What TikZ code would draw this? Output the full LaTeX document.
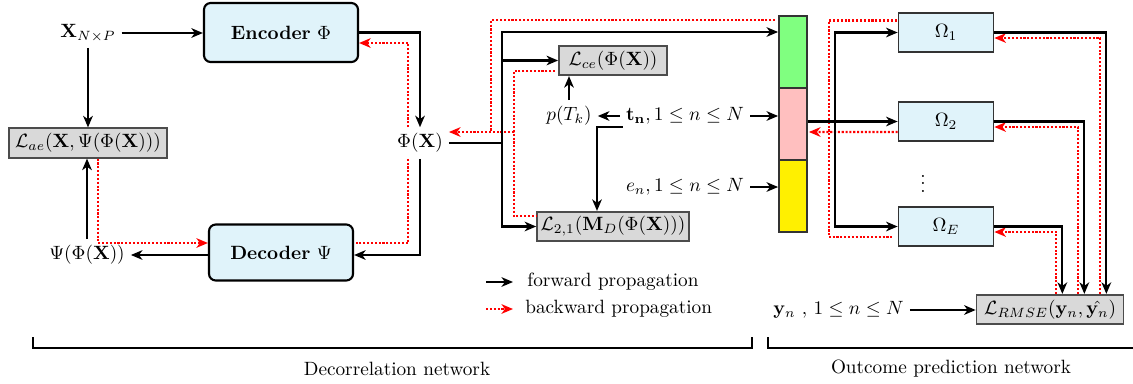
\documentclass[tikz,border=0pt]{standalone}
\usepackage{amsmath,amssymb}
\usetikzlibrary{arrows.meta,calc}
\definecolor{boxblue}{HTML}{E0F3FA}
\definecolor{lossgray}{HTML}{D9D9D9}
\definecolor{bargreen}{HTML}{80FF80}
\definecolor{barpink}{HTML}{FFBFBF}
\definecolor{baryellow}{HTML}{FFF000}
\begin{document}
\begin{tikzpicture}[x=0.52pt,y=-0.52pt,
 tipst/.tip={Stealth[length=6pt,width=5pt,inset=1.8pt]},
 fw/.style={line width=1.1pt,-tipst},
 fl/.style={line width=1.1pt},
 bw/.style={red,line width=1.1pt,dash pattern=on 1.1pt off 0.9pt,-tipst},
 bwn/.style={red,line width=1.1pt,dash pattern=on 1.1pt off 0.9pt},
 netbox/.style={draw=black,line width=1.1pt,rounded corners=3.5pt,fill=boxblue},
 omegabox/.style={draw=black!80,line width=0.9pt,fill=boxblue,minimum width=49.4pt,minimum height=20.3pt},
 lossbox/.style={draw=black!70,line width=0.9pt,fill=lossgray,minimum height=15.3pt,inner sep=1pt},
 lbl/.style={inner sep=3pt},
 seg/.style={draw=black!80,line width=0.9pt,minimum width=14.6pt,minimum height=37.4pt,inner sep=0pt},
 brk/.style={line width=1.1pt}]
\useasboundingbox (0,0) rectangle (1133,383);

% nodes
\node[netbox,minimum width=80.1pt,minimum height=30.7pt] (enc) at (281,32.5) {\textbf{Encoder} $\Phi$};
\node[netbox,minimum width=74.9pt,minimum height=29.1pt] (dec) at (281,252.5) {\textbf{Decoder} $\Psi$};
\node[lbl] (X) at (88,33) {$\mathbf{X}_{N\times P}$};
\node[lossbox,minimum width=82.2pt] (Lae) at (88,143) {$\mathcal{L}_{ae}(\mathbf{X},\Psi(\Phi(\mathbf{X})))$};
\node[lbl] (psi) at (87,255) {$\Psi(\Phi(\mathbf{X}))$};
\node[lbl] (phi) at (420,143) {$\Phi(\mathbf{X})$};
\node[lossbox,minimum width=56.2pt] (Lce) at (613,60.5) {$\mathcal{L}_{ce}(\Phi(\mathbf{X}))$};
\node[lossbox,minimum width=79pt] (L21) at (613,226.5) {$\mathcal{L}_{2,1}(\mathbf{M}_D(\Phi(\mathbf{X})))$};
\node[lbl] (pT) at (569,116) {$p(T_k)$};
\node[lbl] (tn) at (685,116) {$\mathbf{t_n}, 1\leq n\leq N$};
\node[lbl] (en) at (685,187) {$e_n, 1\leq n\leq N$};
\node[seg,fill=bargreen] (g) at (793,52) {};
\node[seg,fill=barpink] (pk) at (793,124) {};
\node[seg,fill=baryellow] (yl) at (793,196) {};
\node[omegabox] (O1) at (946,32.5) {$\Omega_1$};
\node[omegabox] (O2) at (946,121.5) {$\Omega_2$};
\node[omegabox] (OE) at (946,226.5) {$\Omega_E$};
\node (dots) at (923,178) {$\vdots$};
\node[lossbox,minimum width=76.4pt] (Lr) at (1050,309.5) {$\mathcal{L}_{RMSE}(\mathbf{y}_n,\hat{\mathbf{y}_n})$};
\node[lbl] (yn) at (838.5,310) {$\mathbf{y}_n\ ,\, 1\leq n\leq N$};

\coordinate (s1) at (502,143);
\coordinate (s2) at (835,121.5);
\coordinate (j1) at (514,132);
\coordinate (j2) at (491,132);

% backward propagation
\draw[bw] ($(phi.north)+(-12,0)$) |- ($(enc.east)+(0,10.5)$);
\draw[bwn] ($(phi.south)+(-12,0)$) |- ($(dec.east)+(0,-9.5)$);
\draw[bw] ($(Lae.south)+(10,0)$) |- ($(dec.west)+(0,-9.5)$);
\draw[bwn] ($(g.north west)+(-3,5)$) -| (j2);
\draw[bw] (j1) -- ($(phi.east)+(0,-11)$);
\draw[bwn] ($(Lce.west)+(-3,10.5)$) -| (j1) |- ($(L21.west)+(0,-10.5)$);
\draw[bwn] ($(O1.west)+(-1,-12)$) -| ($(OE.west)+(-69,10.5)$) -- ($(OE.west)+(-5,10.5)$);
\draw[bw] ($(O2.west)+(0,10.5)$) -- ($(pk.east)+(1,8)$);
\draw[bw] ($(Lr.north east)+(-24,0)$) |- ($(O1.east)+(0,5.5)$);
\draw[bw] ($(Lr.north east)+(-46,0)$) |- ($(O2.east)+(0,5.5)$);
\draw[bw] ($(Lr.north east)+(-68,0)$) |- ($(OE.east)+(0,5.5)$);

% forward propagation
\draw[fw] (X.east) -- (X.east -| enc.west);
\draw[fw] (enc.east) -| (phi.north);
\draw[fw] (phi.south) |- (dec.east |- psi.east);
\draw[fw] (dec.west |- psi.east) -- (psi.east);
\draw[fw] (psi.north) -- (psi.north |- Lae.south);
\draw[fw] (X.south) -- (X.south |- Lae.north);
\draw[fl] (phi.east) -- (s1);
\draw[fw] (s1) |- ($(g.west)+(0,-20)$);
\draw[fw] (s1) |- (Lce.west);
\draw[fw] (s1) |- (L21.west);
\draw[fw] (pT.north) -- (pT.north |- Lce.south);
\draw[fw] (tn.west) -- (pT.east);
\draw[fw] ($(tn.west)+(3,11)$) -| ($(L21.north)+(-16,0)$);
\draw[fw] (tn.east) -- (tn.east -| pk.west);
\draw[fw] (en.east) -- (en.east -| yl.west);
\draw[fw] (O2.west -| pk.east) -- (O2.west);
\draw[fw] (s2) |- (O1.west);
\draw[fw] (s2) |- (OE.west);
\draw[fw] (O1.east) -| ($(Lr.north east)+(-18,0)$);
\draw[fw] (O2.east) -| ($(Lr.north east)+(-40,0)$);
\draw[fw] (OE.east) -| ($(Lr.north east)+(-62,0)$);
\draw[fw] (yn.east) -- (yn.east -| Lr.west);

% legend
\coordinate (la1) at (486,282); \coordinate (la2) at (513,282);
\coordinate (lb1) at (486,309); \coordinate (lb2) at (513,309);
\draw[fw] (la1) -- (la2);
\draw[bw] (lb1) -- (lb2);
\node[anchor=west,inner sep=0pt] (lt1) at (527,282) {forward propagation};
\node[anchor=west,inner sep=0pt] (lt2) at (525,309) {backward propagation};

% brackets
\draw[brk] (33,337) -- (33,348) -- (752,348) -- (752,337);
\draw[brk] (768,337) -- (768,348) -- (1135,348);
\node (dn) at (397,369) {Decorrelation network};
\node (on) at (951,369) {Outcome prediction network};
\end{tikzpicture}
\end{document}
